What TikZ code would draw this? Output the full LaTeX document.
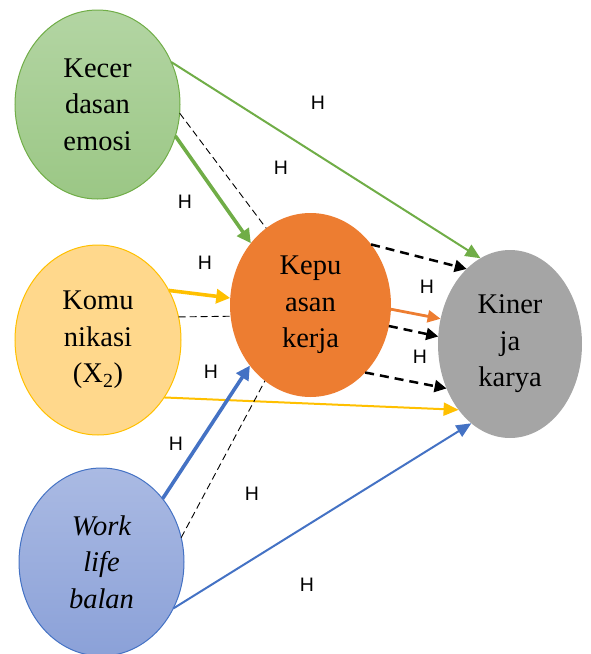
\documentclass[tikz,border=0pt]{standalone}
\usepackage{fontspec}
\setmainfont{Liberation Serif}
\newfontfamily\vfont{Liberation Serif}
\newfontfamily\hfont{Liberation Sans}
\usetikzlibrary{shapes.geometric,arrows.meta}

\definecolor{grnline}{HTML}{70AD47}
\definecolor{grntop}{HTML}{B3D5A3}
\definecolor{grnbot}{HTML}{9BC785}
\definecolor{ylwline}{HTML}{FFC000}
\definecolor{ylwfill}{HTML}{FFD88C}
\definecolor{blueline}{HTML}{4472C4}
\definecolor{bluetop}{HTML}{AABAE3}
\definecolor{bluebot}{HTML}{8BA1D8}
\definecolor{orgfill}{HTML}{ED7D31}
\definecolor{grayfill}{HTML}{A5A5A5}

\begin{document}
\begin{tikzpicture}[x=1pt,y=-1pt,inner sep=0pt,outer sep=0pt,
  var/.style={ellipse,align=center,font=\vfont\fontsize{28.5}{36.5}\selectfont},
  hlab/.style={font=\hfont\fontsize{19.5}{19.5}\selectfont},
  thinarr/.style={line width=2pt,-{Triangle[length=15pt,width=13pt]}},
  thickarr/.style={line width=3.6pt,-{Triangle[length=14pt,width=14pt]}},
  dasharr/.style={black,line width=2.5pt,dash pattern=on 9pt off 6pt,-{Triangle[length=12pt,width=12pt]}},
  dashline/.style={black,line width=0.9pt,dash pattern=on 7pt off 4pt}]
\useasboundingbox (0,0) rectangle (590,654);
% variables
\node at (97.5,104.5) [var,minimum width=165,minimum height=189,draw=grnline,line width=1pt,top color=grntop,bottom color=grnbot] (Emosi) {Kecer\\dasan\\emosi};
\node at (98,340) [var,minimum width=166,minimum height=190,draw=ylwline,line width=1pt,fill=ylwfill] (Komunikasi) {Komu\\nikasi\\(X\textsubscript{2})};
\node at (101.5,562) [var,minimum width=165,minimum height=188,draw=blueline,line width=1pt,top color=bluetop,bottom color=bluebot] (Balance) {\itshape Work\\\itshape life\\\itshape balan};
\node at (310.5,305) [var,minimum width=161,minimum height=184,fill=orgfill] (Kepuasan) {Kepu\\asan\\kerja};
\node at (510,344) [var,minimum width=144,minimum height=188,fill=grayfill] (Kinerja) {Kiner\\ja\\karya};
% direct paths
\draw [thinarr,grnline] (Emosi.30) -- (Kinerja.109);
\draw [thinarr,ylwline] (Komunikasi.-41) -- (Kinerja.232);
\draw [thinarr,blueline] (Balance.-33) -- (Kinerja.244);
% paths to Kepuasan
\draw [thickarr,grnline] (Emosi.-22) -- (Kepuasan.134);
\draw [thickarr,ylwline] (Komunikasi.35) -- (Kepuasan.175);
\draw [thickarr,blueline] (Balance.46) -- (Kepuasan.225);
\draw [dashline] (Emosi.-6) -- (Kepuasan.120);
\draw [dashline] (Komunikasi.16) -- (Kepuasan.188);
\draw [dashline] (Balance.17) -- (Kepuasan.239);
% Kepuasan to Kinerja
\draw [dasharr] (Kepuasan.45) -- (Kinerja.120);
\draw [orgfill,line width=2.8pt,-{Triangle[length=13pt,width=12pt]}] (Kepuasan.-3) -- (Kinerja.160);
\draw [dasharr] (Kepuasan.-15) -- (Kinerja.174);
\draw [dasharr] (Kepuasan.-51) -- (Kinerja.215);
% labels
\node [hlab] at (318,103) (H1) {H};
\node [hlab] at (281,168) (H2) {H};
\node [hlab] at (185,202) (H3) {H};
\node [hlab] at (205,263) (H4) {H};
\node [hlab] at (427,287) (H5) {H};
\node [hlab] at (420,357) (H6) {H};
\node [hlab] at (211,372) (H7) {H};
\node [hlab] at (176,444) (H8) {H};
\node [hlab] at (252,494) (H9) {H};
\node [hlab] at (307,585) (H10) {H};
\end{tikzpicture}
\end{document}
